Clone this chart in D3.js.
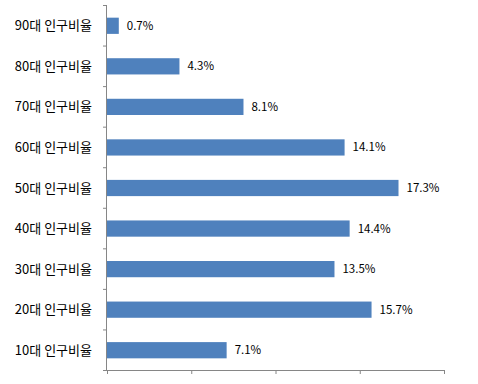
<!DOCTYPE html>
<html><head><meta charset="utf-8">
<script src="https://cdn.jsdelivr.net/npm/d3@7/dist/d3.min.js"></script>
<style>body{margin:0;background:#fff;} svg{display:block;}</style>
</head><body>
<svg id="c" width="478" height="384"></svg>
<script>
const categories = ["90대 인구비율","80대 인구비율","70대 인구비율","60대 인구비율","50대 인구비율","40대 인구비율","30대 인구비율","20대 인구비율","10대 인구비율"];
const values = [0.7, 4.3, 8.1, 14.1, 17.3, 14.4, 13.5, 15.7, 7.1];
const xTicks = [0, 5, 10, 15, 20];

const svg = d3.select("#c");
const mLeft = 107, mRight = 444, mTop = 5, mBottom = 370;
const x = d3.scaleLinear().domain([0, 20]).range([mLeft, mRight]);
const y = d3.scaleBand().domain(categories).range([mTop, mBottom]).paddingInner(0.6).paddingOuter(0.3);
const axisColor = "#868686";
const font = "'Noto Sans CJK KR', 'Noto Sans', sans-serif";

// bars
svg.selectAll("rect.bar").data(values).join("rect")
  .attr("class","bar")
  .attr("x", x(0))
  .attr("y", (d,i) => y(categories[i]) + 0.5)
  .attr("width", d => x(d) - x(0))
  .attr("height", y.bandwidth())
  .attr("fill", "#4F81BD");

// value labels
svg.selectAll("text.val").data(values).join("text")
  .attr("class","val")
  .attr("x", d => x(d) + 8)
  .attr("y", (d,i) => y(categories[i]) + y.bandwidth()/2 + 0.5)
  .attr("dy", "0.35em")
  .attr("font-family", font)
  .attr("font-size", 11.5)
  .attr("fill", "#000")
  .text(d => d.toFixed(1) + "%");

// x axis (ticks, no labels)
const xa = svg.append("g").attr("transform", `translate(0,${mBottom})`)
  .call(d3.axisBottom(x).tickValues(xTicks).tickSize(4).tickFormat(""));
xa.select(".domain").attr("stroke", axisColor).attr("d", `M${mLeft},0.5H${mRight}`);
xa.selectAll(".tick line").attr("stroke", axisColor);

// y axis: boundary ticks
const yb = d3.scaleLinear().domain([0, categories.length]).range([mTop, mBottom]);
const ya = svg.append("g").attr("transform", `translate(${mLeft},0)`)
  .call(d3.axisLeft(yb).ticks(categories.length).tickSize(4).tickFormat(""));
ya.select(".domain").attr("stroke", axisColor).attr("d", `M-0.5,${mTop}V${mBottom}`);
ya.selectAll(".tick line").attr("stroke", axisColor);

// category labels
svg.selectAll("text.cat").data(categories).join("text")
  .attr("class","cat")
  .attr("x", 92)
  .attr("y", d => y(d) + y.bandwidth()/2 + 0.5)
  .attr("dy", "0.35em")
  .attr("text-anchor", "end")
  .attr("font-family", font)
  .attr("font-size", 13)
  .attr("fill", "#000")
  .text(d => d);
</script>
</body></html>
